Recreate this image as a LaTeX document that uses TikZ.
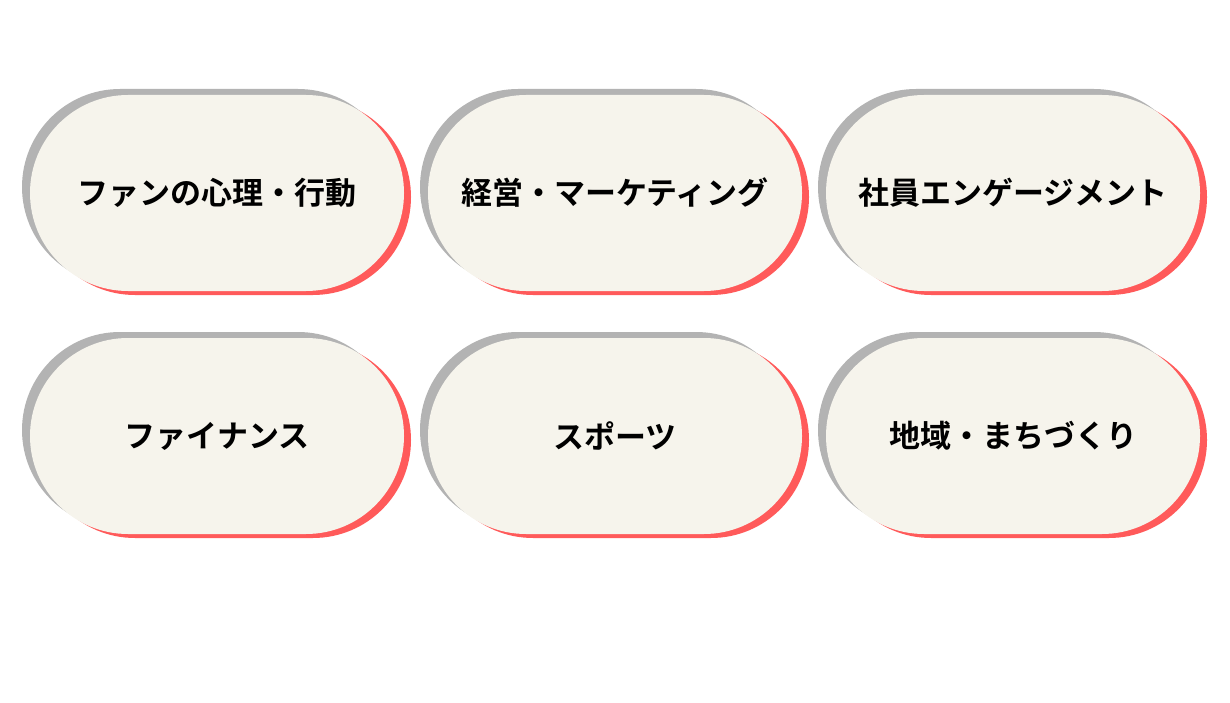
\documentclass[tikz,border=0pt]{standalone}
\usepackage{fontspec}
\newfontfamily\cjkb{Noto Sans CJK JP Bold}
\usetikzlibrary{shadows}
\definecolor{pillfill}{HTML}{F6F4EC}
\definecolor{shadowgray}{HTML}{B3B3B3}
\definecolor{shadowred}{HTML}{FF5A5A}
\tikzset{
  pill/.style={rectangle, rounded corners=98pt, minimum width=374pt, minimum height=196pt,
    fill=pillfill, inner sep=0pt, font=\cjkb\fontsize{31}{36}\selectfont, text=black,
    general shadow={fill=shadowred, shadow xshift=7pt, shadow yshift=-4pt},
    general shadow={fill=shadowgray, shadow xshift=-8pt, shadow yshift=6pt}}
}
\begin{document}
\begin{tikzpicture}[x=1pt,y=-1pt]
\useasboundingbox (0,0) rectangle (1230,703);
\node[pill] (a) at (217,193) {\raisebox{-2pt}{ファンの心理・行動}};
\node[pill] (b) at (615,193) {\raisebox{-2pt}{経営・マーケティング}};
\node[pill] (c) at (1013,193) {\raisebox{-2pt}{社員エンゲージメント}};
\node[pill] (d) at (217,436) {\raisebox{-2pt}{ファイナンス}};
\node[pill] (e) at (615,436) {\raisebox{-2pt}{スポーツ}};
\node[pill] (f) at (1013,436) {\raisebox{-2pt}{地域・まちづくり}};
\end{tikzpicture}
\end{document}
